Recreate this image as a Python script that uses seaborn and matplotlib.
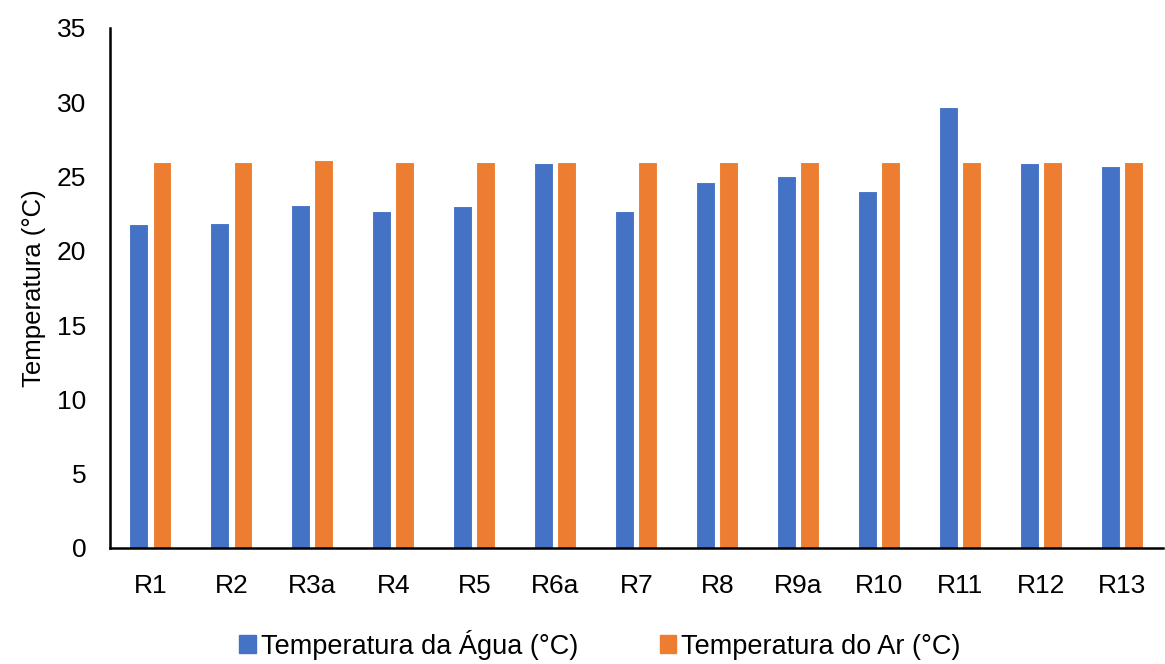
import pandas as pd
import numpy as np
import matplotlib.pyplot as plt
import seaborn as sns

# Dados
pontos = ['R1', 'R2', 'R3a', 'R4', 'R5', 'R6a', 'R7', 'R8', 'R9a', 'R10', 'R11', 'R12', 'R13']
temp_agua = [21.8, 21.9, 23.1, 22.7, 23.0, 25.9, 22.7, 24.6, 25.0, 24.0, 29.7, 25.9, 25.7]
temp_ar = [26.0, 26.0, 26.1, 26.0, 26.0, 26.0, 26.0, 26.0, 26.0, 26.0, 26.0, 26.0, 26.0]

serie_agua = 'Temperatura da Água (°C)'
serie_ar = 'Temperatura do Ar (°C)'

df = pd.DataFrame({'ponto': pontos, serie_agua: temp_agua, serie_ar: temp_ar})
df_long = df.melt(id_vars='ponto', var_name='serie', value_name='temp')

sns.set_style('white')
plt.rcParams['font.family'] = ['Liberation Sans', 'DejaVu Sans']
plt.rcParams['text.color'] = 'black'
plt.rcParams['xtick.color'] = 'black'
plt.rcParams['ytick.color'] = 'black'
plt.rcParams['axes.labelcolor'] = 'black'

fig = plt.figure(figsize=(11.65, 6.64), dpi=100)
ax = fig.add_axes([0.0944, 0.1747, 0.9036, 0.7833])

sns.barplot(data=df_long, x='ponto', y='temp', hue='serie',
            palette=['#4472C4', '#ED7D31'], saturation=1, width=0.57, gap=0.18,
            edgecolor='white', linewidth=0.8, ax=ax, legend=False)

ax.set_ylim(0, 35)
ax.set_yticks(np.arange(0, 36, 5))
ax.set_xlim(-0.5, len(pontos) - 0.5)
ax.set_xlabel('')
ax.set_ylabel('Temperatura (°C)', fontsize=18.5, labelpad=8)
ax.tick_params(axis='both', labelsize=19, length=0)
ax.tick_params(axis='x', pad=19)
ax.tick_params(axis='y', pad=17)

for s in ['top', 'right']:
    ax.spines[s].set_visible(False)
ax.spines['left'].set_color('black')
ax.spines['bottom'].set_color('black')
ax.spines['left'].set_linewidth(1.8)
ax.spines['bottom'].set_linewidth(1.8)

handles = [plt.Rectangle((0, 0), 1, 1, color='#4472C4'),
           plt.Rectangle((0, 0), 1, 1, color='#ED7D31')]
fig.legend(handles, [serie_agua, serie_ar], loc='lower center',
           bbox_to_anchor=(0.515, -0.03), ncol=2, frameon=False, fontsize=19.5,
           handlelength=0.6, handleheight=0.6, handletextpad=0.2,
           columnspacing=3.0)

plt.savefig('out.png', dpi=100)
